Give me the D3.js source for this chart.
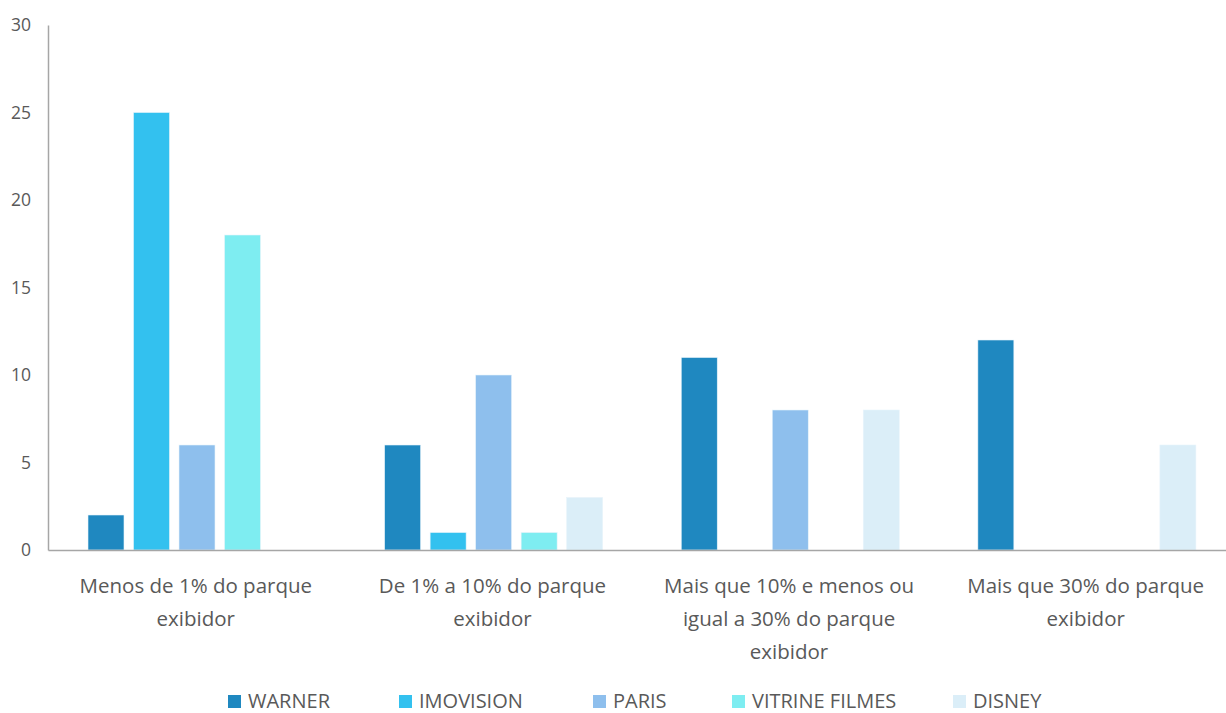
<!DOCTYPE html>
<html><head><meta charset="utf-8">
<script src="https://cdn.jsdelivr.net/npm/d3@7"></script>
<style>body{margin:0;background:#fff}svg{display:block;font-family:"Open Sans",sans-serif}</style>
</head><body><svg id="c" width="1226" height="713"></svg>
<script>
const categories = ["Menos de 1% do parque exibidor","De 1% a 10% do parque exibidor","Mais que 10% e menos ou igual a 30% do parque exibidor","Mais que 30% do parque exibidor"];
const categoryLines = [["Menos de 1% do parque","exibidor"],["De 1% a 10% do parque","exibidor"],["Mais que 10% e menos ou","igual a 30% do parque","exibidor"],["Mais que 30% do parque","exibidor"]];
const seriesNames = ["WARNER","IMOVISION","PARIS","VITRINE FILMES","DISNEY"];
const warner = [2,6,11,12];
const imovision = [25,1,0,0];
const paris = [6,10,8,0];
const vitrine = [18,1,0,0];
const disney = [0,3,8,6];
const yTicks = [0,5,10,15,20,25,30];
const colors = ["#1f88c0","#33c1ef","#8ebfed","#7eedf1","#dbeef8"];

(function(){
const series = [warner,imovision,paris,vitrine,disney];
const svg = d3.select("#c");
const mLeft = 48, mRight = 1234.5, mTop = 25, mBottom = 550;
const x0 = d3.scaleBand().domain(categories).range([mLeft,mRight]).padding(0);
const x1 = d3.scaleBand().domain(seriesNames).range([40,258]).paddingInner(0.209).paddingOuter(0);
const y = d3.scaleLinear().domain([0,30]).range([mBottom,mTop]);

const ya = svg.append("g").attr("transform",`translate(${mLeft},0)`)
  .call(d3.axisLeft(y).tickValues(yTicks).tickSize(0).tickPadding(17));
ya.select(".domain").attr("stroke","#a6a6a6").attr("stroke-width",1.5);
ya.selectAll("text").attr("font-size",17.5).attr("fill","#595959").attr("font-family","Open Sans");

categories.forEach((c,ci)=>{
  const g = svg.append("g").attr("transform",`translate(${x0(c)},0)`);
  seriesNames.forEach((s,si)=>{
    const v = series[si][ci];
    if(v<=0) return;
    g.append("rect").attr("x",x1(s)).attr("width",x1.bandwidth())
      .attr("y",y(v)).attr("height",y(0)-y(v))
      .attr("fill",colors[si]).attr("stroke","#e8f4fb").attr("stroke-width",0.6);
  });
});

const xa = svg.append("g").attr("transform",`translate(0,${mBottom})`)
  .call(d3.axisBottom(x0).tickSize(0).tickFormat(""));
xa.select(".domain").attr("stroke","#a6a6a6").attr("stroke-width",1.5);
categories.forEach((c,ci)=>{
  const cx = x0(c)+x0.bandwidth()/2-0.5;
  const t = svg.append("text").attr("x",cx).attr("y",593)
    .attr("text-anchor","middle").attr("font-size",20.5).attr("fill","#595959");
  categoryLines[ci].forEach((l,li)=>{
    t.append("tspan").attr("x",cx).attr("dy",li===0?0:33).text(l);
  });
});

const legendX = d3.scaleOrdinal().domain(seriesNames).range([228,399,593,732,953]);
const lg = svg.append("g");
seriesNames.forEach((s,si)=>{
  const lx = legendX(s);
  lg.append("rect").attr("x",lx).attr("y",695).attr("width",13).attr("height",13).attr("fill",colors[si]);
  lg.append("text").attr("x",lx+20).attr("y",707.5).attr("font-size",20).attr("fill","#595959").text(s);
});
})();
</script></body></html>
